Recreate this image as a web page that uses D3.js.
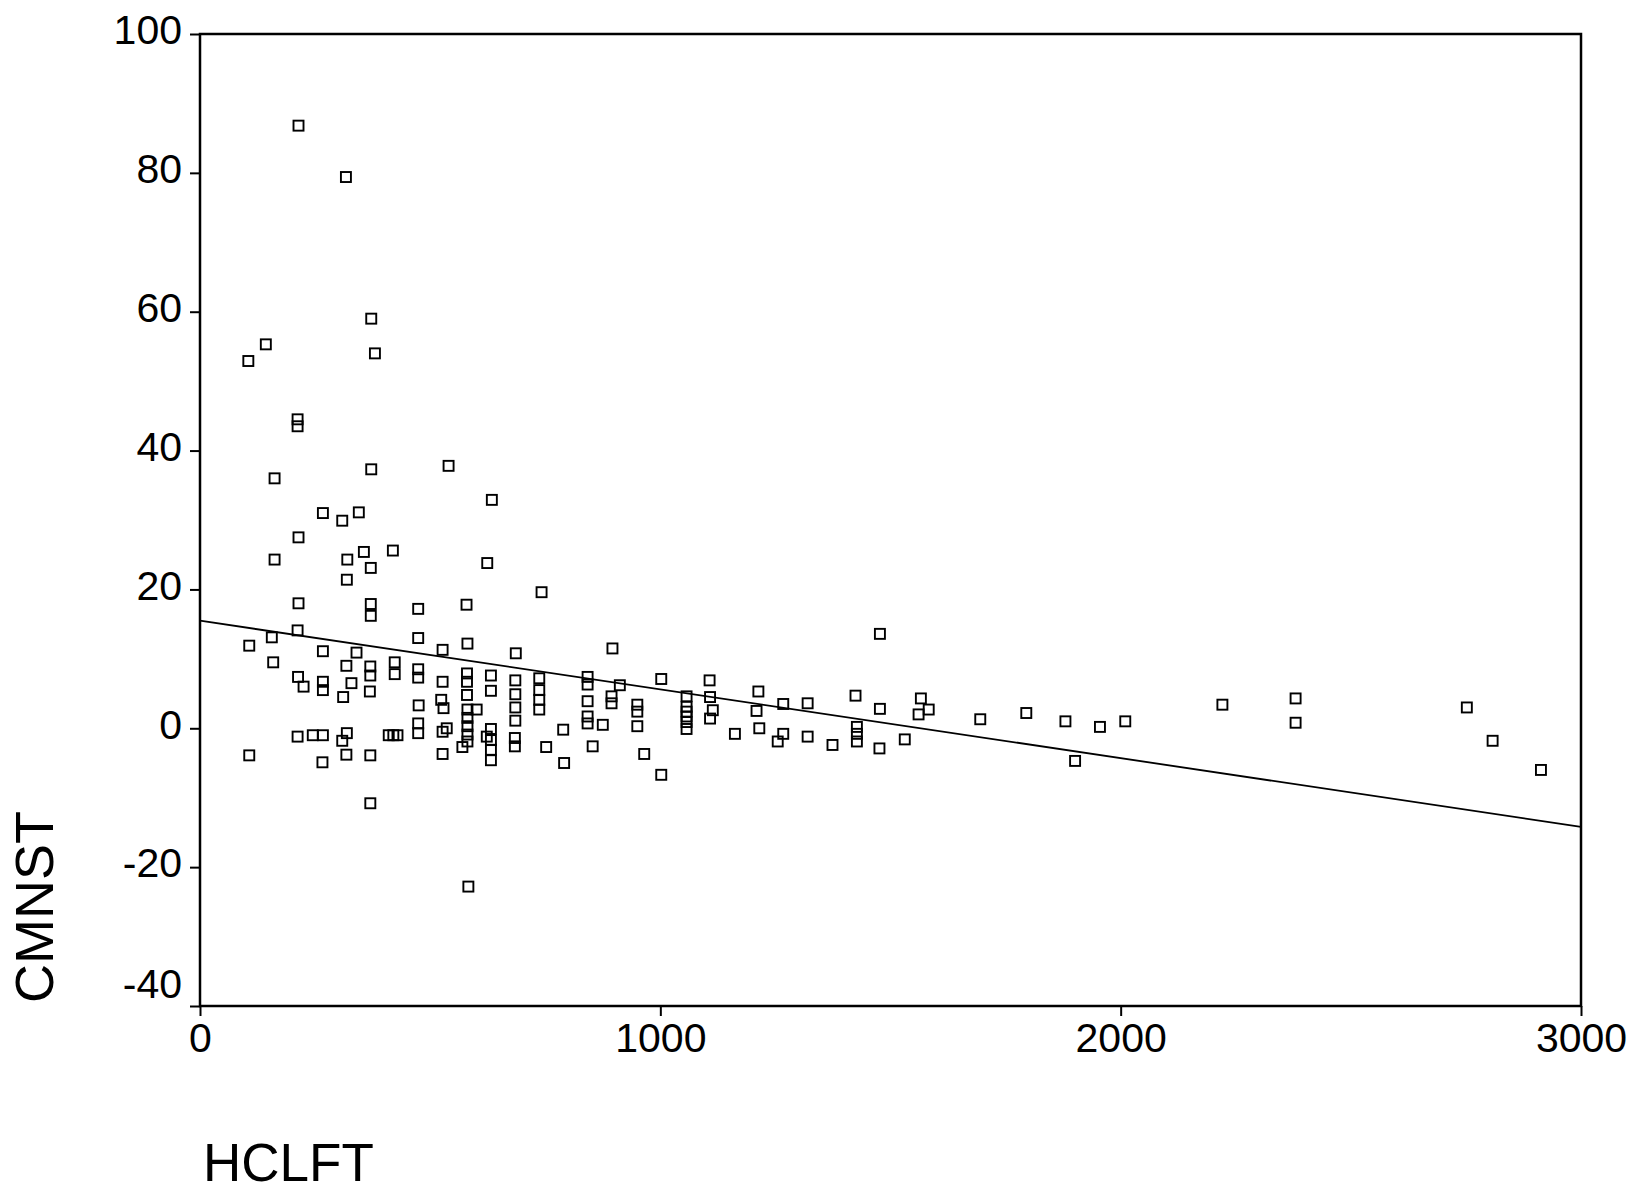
<!DOCTYPE html>
<html>
<head>
<meta charset="utf-8">
<script src="https://cdn.jsdelivr.net/npm/d3@7"></script>
<style>
  body { margin: 0; background: #fff; }
  svg { display: block; }
  .tick text { font-family: "Liberation Sans", Arial, sans-serif; font-size: 41px; fill: #000; }
</style>
</head>
<body>
<div id="chart"></div>
<script>
var hclft = [
  214, 317, 372, 380, 143, 105, 212, 212,
  372, 540, 162, 634, 267, 309, 345,
  214, 162, 320, 356, 419, 371, 319, 624, 742,
  214, 371, 371, 474, 579, 212, 156, 107, 474,
  159, 267, 340, 527, 581, 686,
  318, 370, 370, 423, 423, 474, 474,
  213, 225, 267, 267, 329, 311, 369, 527,
  580, 580, 580, 632, 632,
  685, 685, 685, 685, 737, 737, 737, 737,
  842, 842, 842, 842, 842, 875,
  896, 912, 894, 894, 475, 524, 529,
  581, 581, 581, 581, 581, 601, 474, 474, 527, 536,
  212, 245, 267, 319, 309, 410, 420, 429, 570,
  632, 632, 632, 623, 632, 684, 684,
  752, 789, 791, 853, 107, 266, 318, 370, 527, 370, 583,
  1002, 1002, 950, 950, 950, 965,
  1057, 1057, 1057, 1057, 1057, 1057,
  1107, 1108, 1114, 1108, 1213, 1209, 1215, 1162,
  1267, 1320, 1267, 1255, 1320, 1374,
  1424, 1427, 1427, 1427, 1477, 1477, 1476, 1531,
  1566, 1583, 1561, 1695, 1795, 1880, 1955, 2010, 1901,
  2221, 2380, 2380, 2752, 2808, 2913
];
var cmnst = [
  86.8, 79.4, 59.0, 54.0, 55.3, 52.9, 44.5, 43.5,
  37.3, 37.8, 36.0, 32.9, 31.0, 29.9, 31.1,
  27.5, 24.3, 24.3, 25.4, 25.6, 23.1, 21.4, 23.8, 19.6,
  18.0, 17.9, 16.2, 17.2, 17.8, 14.1, 13.1, 11.9, 13.0,
  9.5, 11.1, 10.9, 11.3, 12.2, 10.8,
  9.0, 8.9, 7.6, 9.5, 7.8, 8.5, 7.3,
  7.4, 6.0, 6.7, 5.5, 6.5, 4.5, 5.3, 6.7,
  7.9, 6.7, 4.8, 7.6, 5.4,
  6.9, 4.9, 3.0, 1.1, 7.2, 5.5, 4.1, 2.7,
  7.4, 6.3, 3.9, 1.7, 0.7, 0.5,
  11.5, 6.2, 4.6, 3.6, 3.3, 4.1, 2.9,
  2.7, 1.5, 0.3, -0.9, -1.9, 2.7, 0.7, -0.7, -0.5, 0.0,
  -1.2, -1.0, -1.0, -0.7, -1.8, -1.0, -1.0, -1.0, -2.7,
  -0.1, -1.7, -3.1, -1.2, -4.6, -1.4, -2.6,
  -2.7, -0.2, -5.0, -2.6, -3.9, -4.9, -3.8, -3.9, -3.7, -10.8, -22.8,
  7.1, -6.7, 3.4, 2.4, 0.3, -3.7,
  4.6, 3.1, 2.4, 1.7, 0.9, -0.1,
  6.9, 4.5, 2.6, 1.4, 5.3, 2.5, 0.0, -0.8,
  3.5, 3.6, -0.8, -1.9, -1.2, -2.4,
  4.7, 0.2, -0.8, -1.9, 13.6, 2.8, -2.9, -1.6,
  4.3, 2.7, 2.0, 1.3, 2.2, 1.0, 0.2, 1.0, -4.7,
  3.4, 4.3, 0.8, 3.0, -1.8, -6.0
];

// fitted regression line end points
var fitX = [0, 3000];
var fitY = [15.5, -14.2];

var xTicks = [0, 1000, 2000, 3000];
var yTicks = [-40, -20, 0, 20, 40, 60, 80, 100];

var width = 1635,
    height = 1193,
    margin = ({ top: 34, right: 54, bottom: 187, left: 200 });

var svg = d3.select("#chart").append("svg")
    .attr("width", width)
    .attr("height", height);

var x = d3.scaleLinear().domain([0, 3000]).range([margin.left, width - margin.right]);
var y = d3.scaleLinear().domain([-40, 100]).range([height - margin.bottom, margin.top]);

// plain hyphen for negatives, like the original
var plain = d => String(d);

// axes
var yAxis = svg.append("g")
    .attr("transform", `translate(${margin.left},0)`)
    .call(d3.axisLeft(y).tickValues(yTicks).tickSize(10).tickPadding(8).tickFormat(plain));
yAxis.select(".domain").remove();
yAxis.selectAll(".tick line").attr("stroke", "#000").attr("stroke-width", 2);
yAxis.selectAll(".tick text")
    .attr("dy", d => d === -40 ? "-0.2em" : "0.24em");

var xAxis = svg.append("g")
    .attr("transform", `translate(0,${height - margin.bottom})`)
    .call(d3.axisBottom(x).tickValues(xTicks).tickSize(10).tickPadding(7).tickFormat(plain));
xAxis.select(".domain").remove();
xAxis.selectAll(".tick line").attr("stroke", "#000").attr("stroke-width", 2);

// frame
svg.append("rect")
    .attr("x", x(0))
    .attr("y", y(100))
    .attr("width", x(3000) - x(0))
    .attr("height", y(-40) - y(100))
    .attr("fill", "none")
    .attr("stroke", "#000")
    .attr("stroke-width", 2.5);

// regression line
svg.append("line")
    .attr("x1", x(fitX[0])).attr("y1", y(fitY[0]))
    .attr("x2", x(fitX[1])).attr("y2", y(fitY[1]))
    .attr("stroke", "#000")
    .attr("stroke-width", 1.8);

// points: hollow squares
var s = 10;
svg.append("g")
    .selectAll("rect")
    .data(d3.range(hclft.length))
    .join("rect")
    .attr("x", i => x(hclft[i]) - s / 2)
    .attr("y", i => y(cmnst[i]) - s / 2)
    .attr("width", s)
    .attr("height", s)
    .attr("fill", "none")
    .attr("stroke", "#000")
    .attr("stroke-width", 1.9);

// axis titles
svg.append("text")
    .attr("transform", `translate(53,${height - margin.bottom - 3}) rotate(-90)`)
    .attr("font-family", "Liberation Sans, Arial, sans-serif")
    .attr("font-size", 54)
    .attr("fill", "#000")
    .text("CMNST");

svg.append("text")
    .attr("x", 203)
    .attr("y", 1181)
    .attr("font-family", "Liberation Sans, Arial, sans-serif")
    .attr("font-size", 53)
    .attr("fill", "#000")
    .text("HCLFT");
</script>
</body>
</html>
